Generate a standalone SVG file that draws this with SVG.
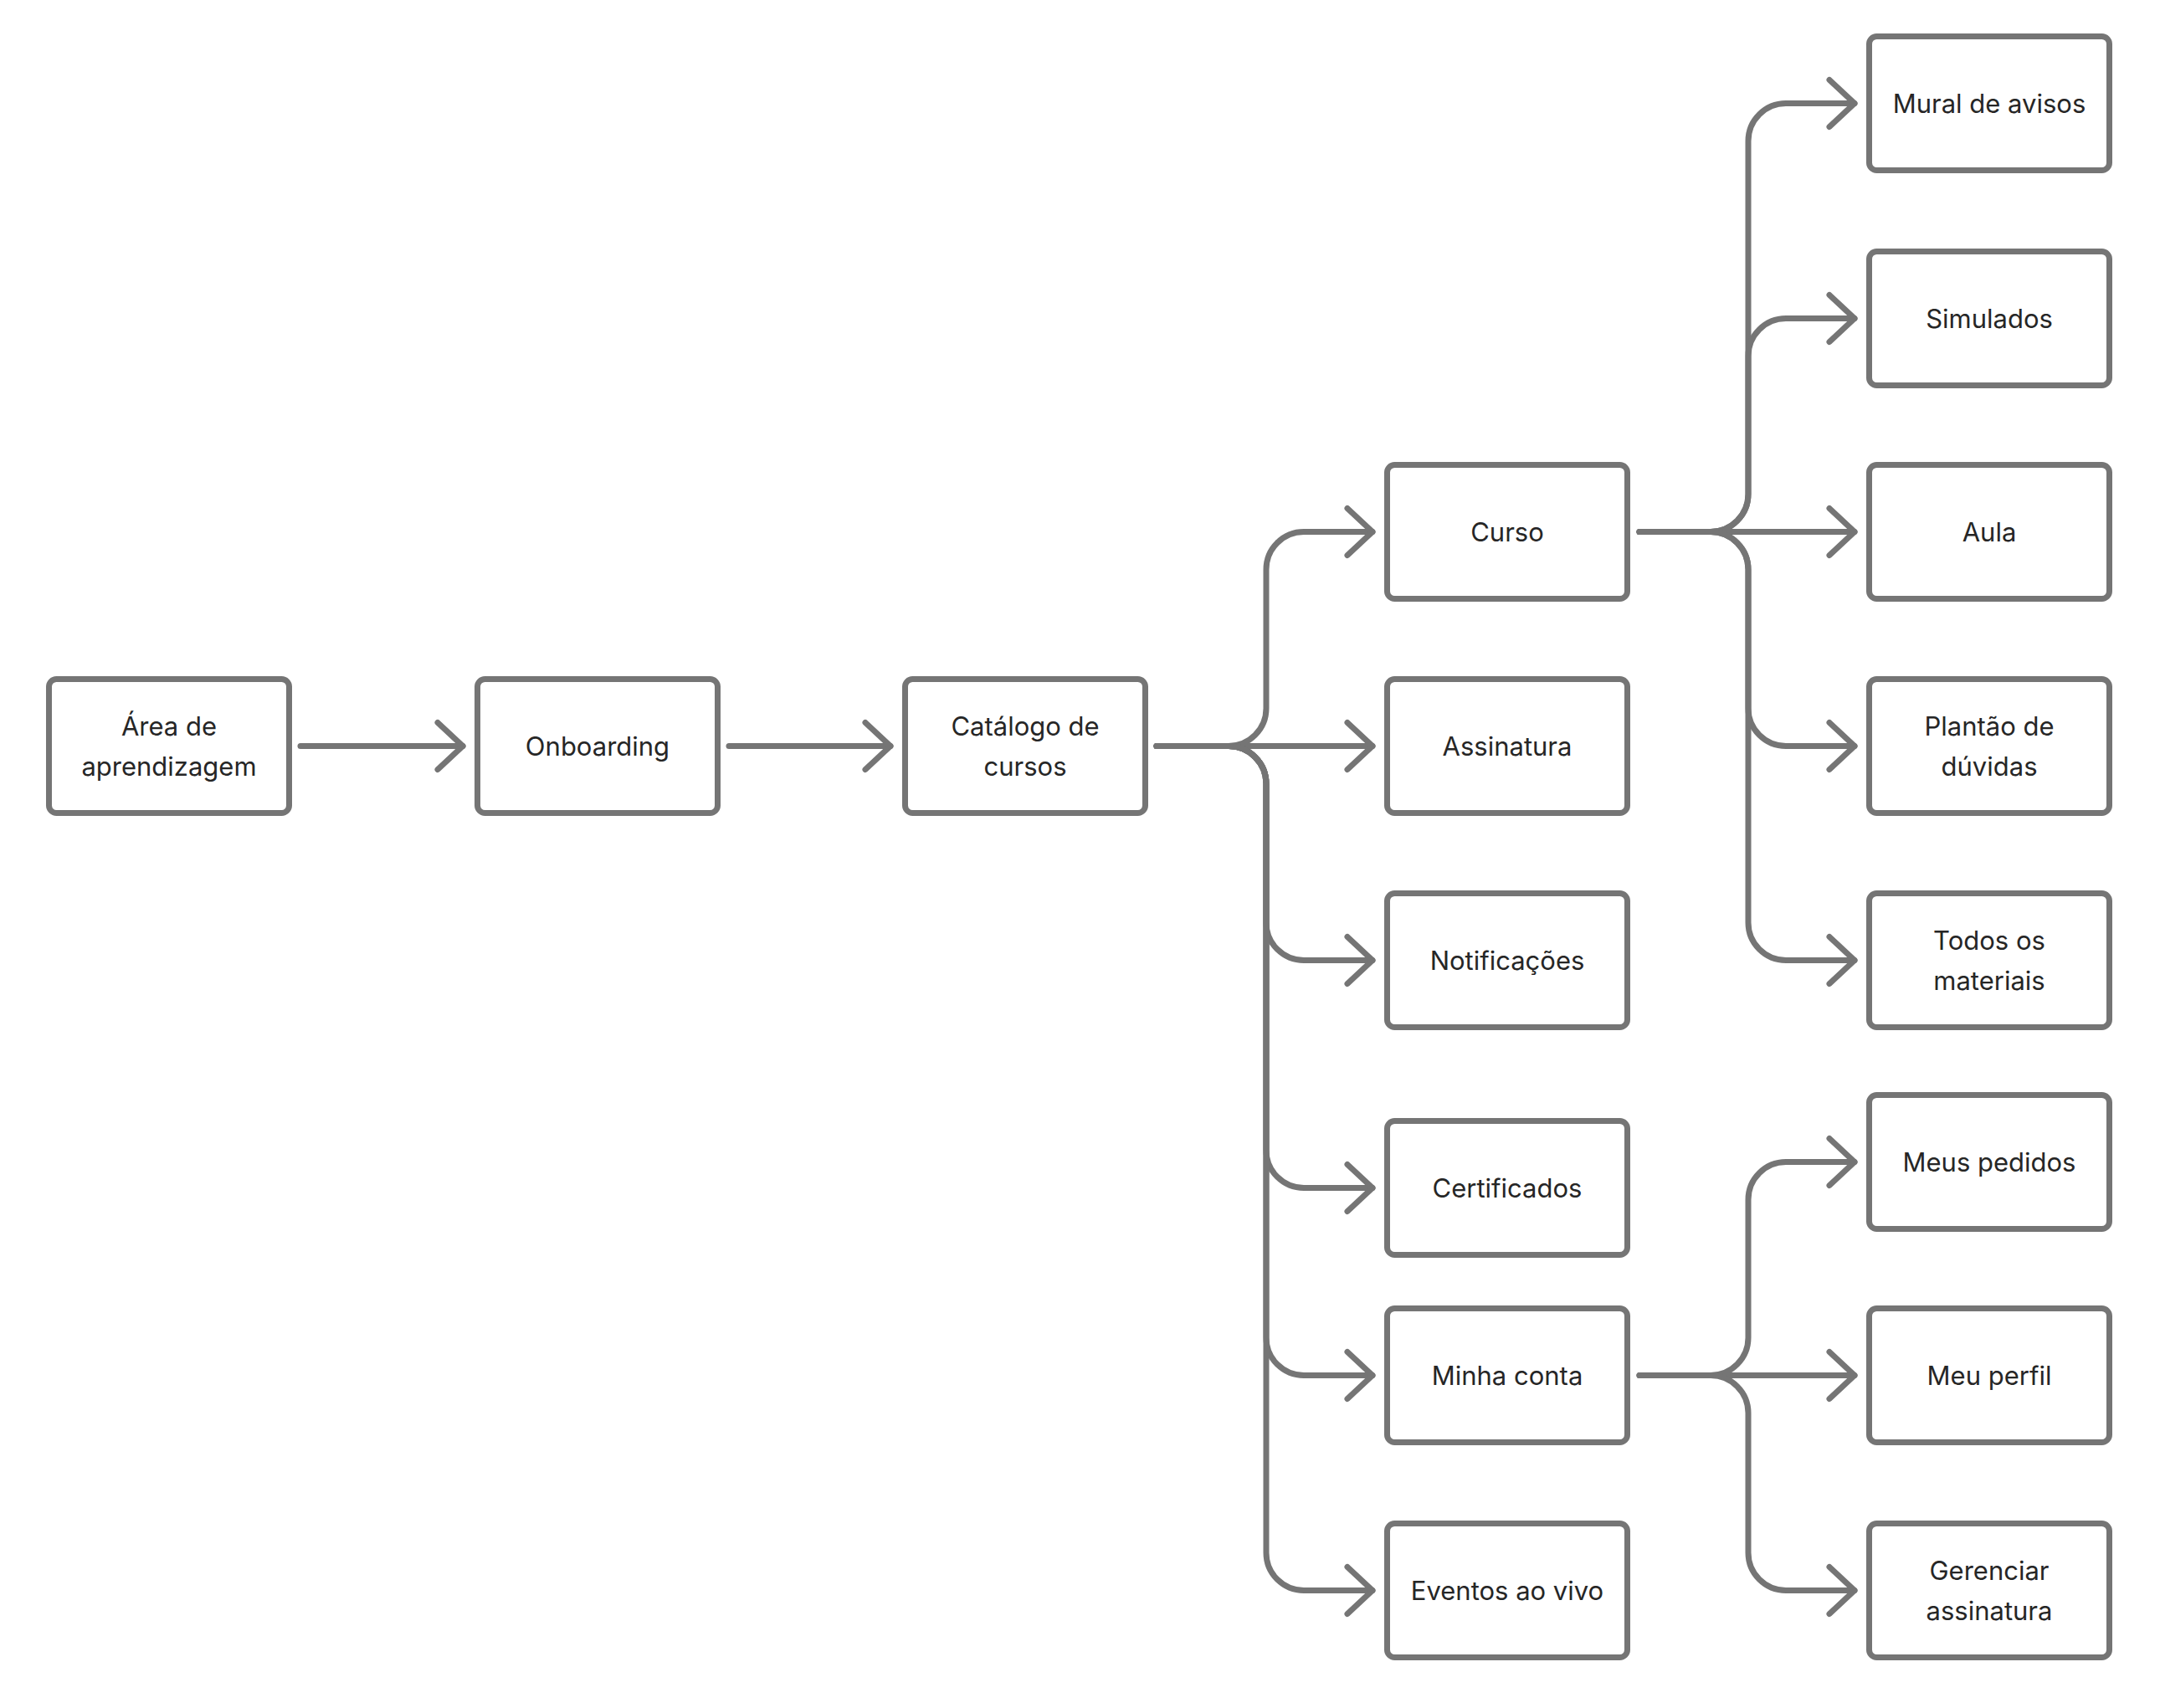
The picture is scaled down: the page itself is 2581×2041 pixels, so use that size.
<svg xmlns="http://www.w3.org/2000/svg" width="2581" height="2041" viewBox="0 0 2581 2041">
<style>
.box{fill:#ffffff;stroke:#757575;stroke-width:7}
.lbl{font-family:Inter,"Liberation Sans",sans-serif;font-size:31px;fill:#262626;text-anchor:middle}
.c{fill:none;stroke:#757575;stroke-width:7;stroke-linecap:round;stroke-linejoin:round}
</style>
<defs>
<marker id="arr" markerUnits="userSpaceOnUse" viewBox="-40 -36 48 72" markerWidth="48" markerHeight="72" refX="0" refY="0" orient="auto" overflow="visible">
<path d="M-30,-28 L0,0 L-30,28" fill="none" stroke="#757575" stroke-width="7" stroke-linecap="round" stroke-linejoin="round"/>
</marker>
</defs>
<rect width="2581" height="2041" fill="#ffffff"/>
<g id="connectors">
<path class="c" marker-end="url(#arr)" d="M359 891.5 H553"/>
<path class="c" marker-end="url(#arr)" d="M871 891.5 H1064"/>
<path class="c" marker-end="url(#arr)" d="M1382 891.5 H1468 A45 45 0 0 0 1513 846.5 V680.5 A45 45 0 0 1 1558 635.5 H1640"/>
<path class="c" marker-end="url(#arr)" d="M1382 891.5 H1640"/>
<path class="c" marker-end="url(#arr)" d="M1382 891.5 H1468 A45 45 0 0 1 1513 936.5 V1102.5 A45 45 0 0 0 1558 1147.5 H1640"/>
<path class="c" marker-end="url(#arr)" d="M1382 891.5 H1468 A45 45 0 0 1 1513 936.5 V1374.5 A45 45 0 0 0 1558 1419.5 H1640"/>
<path class="c" marker-end="url(#arr)" d="M1382 891.5 H1468 A45 45 0 0 1 1513 936.5 V1598.5 A45 45 0 0 0 1558 1643.5 H1640"/>
<path class="c" marker-end="url(#arr)" d="M1382 891.5 H1468 A45 45 0 0 1 1513 936.5 V1855.5 A45 45 0 0 0 1558 1900.5 H1640"/>
<path class="c" marker-end="url(#arr)" d="M1959 635.5 H2044 A45 45 0 0 0 2089 590.5 V168.5 A45 45 0 0 1 2134 123.5 H2216"/>
<path class="c" marker-end="url(#arr)" d="M1959 635.5 H2044 A45 45 0 0 0 2089 590.5 V425.5 A45 45 0 0 1 2134 380.5 H2216"/>
<path class="c" marker-end="url(#arr)" d="M1959 635.5 H2216"/>
<path class="c" marker-end="url(#arr)" d="M1959 635.5 H2044 A45 45 0 0 1 2089 680.5 V846.5 A45 45 0 0 0 2134 891.5 H2216"/>
<path class="c" marker-end="url(#arr)" d="M1959 635.5 H2044 A45 45 0 0 1 2089 680.5 V1102.5 A45 45 0 0 0 2134 1147.5 H2216"/>
<path class="c" marker-end="url(#arr)" d="M1959 1643.5 H2044 A45 45 0 0 0 2089 1598.5 V1433.5 A45 45 0 0 1 2134 1388.5 H2216"/>
<path class="c" marker-end="url(#arr)" d="M1959 1643.5 H2216"/>
<path class="c" marker-end="url(#arr)" d="M1959 1643.5 H2044 A45 45 0 0 1 2089 1688.5 V1855.5 A45 45 0 0 0 2134 1900.5 H2216"/>
</g>
<g id="area"><rect class="box" x="58.5" y="811.5" width="287" height="160" rx="9"/><text class="lbl" x="202" y="879">Área de</text><text class="lbl" x="202" y="927">aprendizagem</text></g>
<g id="onboarding"><rect class="box" x="570.5" y="811.5" width="287" height="160" rx="9"/><text class="lbl" x="714" y="903">Onboarding</text></g>
<g id="catalogo"><rect class="box" x="1081.5" y="811.5" width="287" height="160" rx="9"/><text class="lbl" x="1225" y="879">Catálogo de</text><text class="lbl" x="1225" y="927">cursos</text></g>
<g id="curso"><rect class="box" x="1657.5" y="555.5" width="287" height="160" rx="9"/><text class="lbl" x="1801" y="647">Curso</text></g>
<g id="assinatura"><rect class="box" x="1657.5" y="811.5" width="287" height="160" rx="9"/><text class="lbl" x="1801" y="903">Assinatura</text></g>
<g id="notificacoes"><rect class="box" x="1657.5" y="1067.5" width="287" height="160" rx="9"/><text class="lbl" x="1801" y="1159">Notificações</text></g>
<g id="certificados"><rect class="box" x="1657.5" y="1339.5" width="287" height="160" rx="9"/><text class="lbl" x="1801" y="1431">Certificados</text></g>
<g id="minha-conta"><rect class="box" x="1657.5" y="1563.5" width="287" height="160" rx="9"/><text class="lbl" x="1801" y="1655">Minha conta</text></g>
<g id="eventos"><rect class="box" x="1657.5" y="1820.5" width="287" height="160" rx="9"/><text class="lbl" x="1801" y="1912">Eventos ao vivo</text></g>
<g id="mural"><rect class="box" x="2233.5" y="43.5" width="287" height="160" rx="9"/><text class="lbl" x="2377" y="135">Mural de avisos</text></g>
<g id="simulados"><rect class="box" x="2233.5" y="300.5" width="287" height="160" rx="9"/><text class="lbl" x="2377" y="392">Simulados</text></g>
<g id="aula"><rect class="box" x="2233.5" y="555.5" width="287" height="160" rx="9"/><text class="lbl" x="2377" y="647">Aula</text></g>
<g id="plantao"><rect class="box" x="2233.5" y="811.5" width="287" height="160" rx="9"/><text class="lbl" x="2377" y="879">Plantão de</text><text class="lbl" x="2377" y="927">dúvidas</text></g>
<g id="todos"><rect class="box" x="2233.5" y="1067.5" width="287" height="160" rx="9"/><text class="lbl" x="2377" y="1135">Todos os</text><text class="lbl" x="2377" y="1183">materiais</text></g>
<g id="meus-pedidos"><rect class="box" x="2233.5" y="1308.5" width="287" height="160" rx="9"/><text class="lbl" x="2377" y="1400">Meus pedidos</text></g>
<g id="meu-perfil"><rect class="box" x="2233.5" y="1563.5" width="287" height="160" rx="9"/><text class="lbl" x="2377" y="1655">Meu perfil</text></g>
<g id="gerenciar"><rect class="box" x="2233.5" y="1820.5" width="287" height="160" rx="9"/><text class="lbl" x="2377" y="1888">Gerenciar</text><text class="lbl" x="2377" y="1936">assinatura</text></g>
</svg>
